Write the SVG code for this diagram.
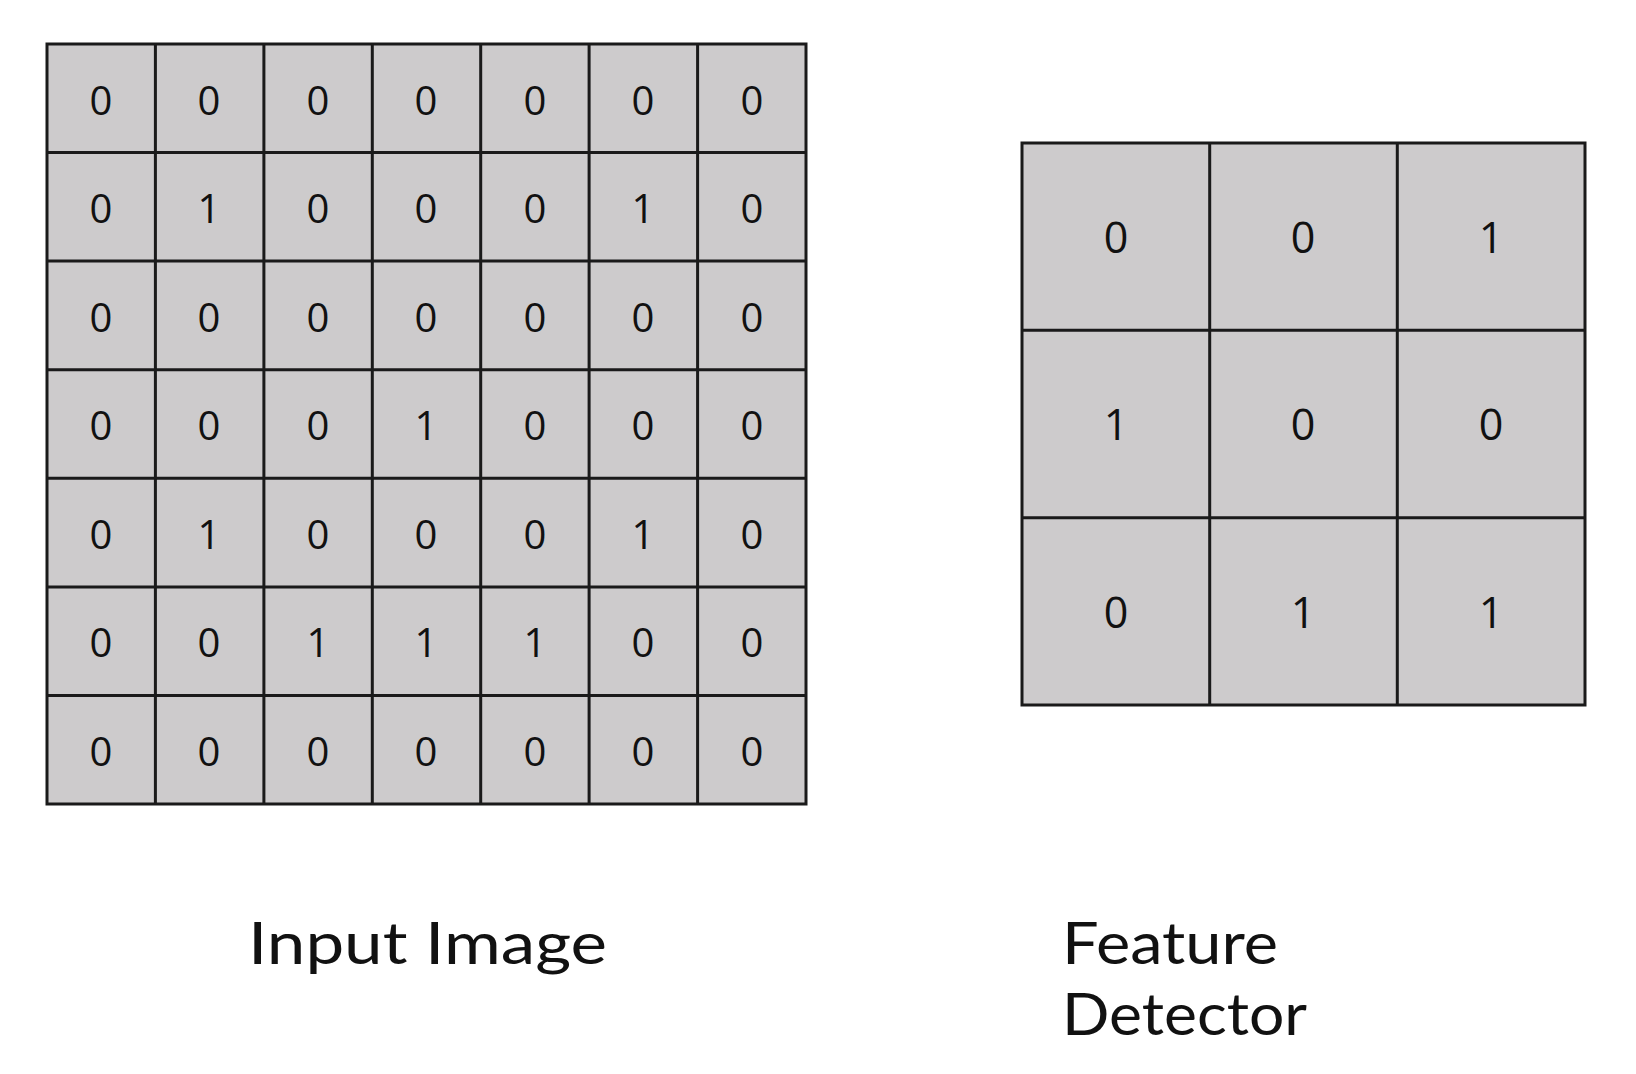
<svg xmlns="http://www.w3.org/2000/svg" width="1636" height="1074" viewBox="0 0 1636 1074">
<style>
.c{fill:#cdcbcc;stroke:#1a1a1a;stroke-width:3}
.d{font-family:"Open Sans","Liberation Sans",sans-serif;fill:#111;text-anchor:middle}
.s{font-size:40px}
.b{font-size:43px}
.l{font-family:Lato,"Liberation Sans",sans-serif;font-size:58px;fill:#111}
</style>
<rect width="1636" height="1074" fill="#fff"/>
<g id="input-image">
<rect class="c" x="47" y="44" width="759" height="760"/>
<path d="M155.4 44V804M263.9 44V804M372.3 44V804M480.7 44V804M589.1 44V804M697.6 44V804M47 152.6H806M47 261.1H806M47 369.7H806M47 478.3H806M47 586.9H806M47 695.4H806" stroke="#1a1a1a" stroke-width="3" fill="none"/>
<g class="d s">
<text x="101" y="115">0</text><text x="209" y="115">0</text><text x="318" y="115">0</text><text x="426" y="115">0</text><text x="535" y="115">0</text><text x="643" y="115">0</text><text x="752" y="115">0</text>
<text x="101" y="223">0</text><text x="209" y="223">1</text><text x="318" y="223">0</text><text x="426" y="223">0</text><text x="535" y="223">0</text><text x="643" y="223">1</text><text x="752" y="223">0</text>
<text x="101" y="332">0</text><text x="209" y="332">0</text><text x="318" y="332">0</text><text x="426" y="332">0</text><text x="535" y="332">0</text><text x="643" y="332">0</text><text x="752" y="332">0</text>
<text x="101" y="440">0</text><text x="209" y="440">0</text><text x="318" y="440">0</text><text x="426" y="440">1</text><text x="535" y="440">0</text><text x="643" y="440">0</text><text x="752" y="440">0</text>
<text x="101" y="549">0</text><text x="209" y="549">1</text><text x="318" y="549">0</text><text x="426" y="549">0</text><text x="535" y="549">0</text><text x="643" y="549">1</text><text x="752" y="549">0</text>
<text x="101" y="657">0</text><text x="209" y="657">0</text><text x="318" y="657">1</text><text x="426" y="657">1</text><text x="535" y="657">1</text><text x="643" y="657">0</text><text x="752" y="657">0</text>
<text x="101" y="766">0</text><text x="209" y="766">0</text><text x="318" y="766">0</text><text x="426" y="766">0</text><text x="535" y="766">0</text><text x="643" y="766">0</text><text x="752" y="766">0</text>
</g>
</g>
<g id="feature-detector">
<rect class="c" x="1022" y="143" width="563" height="562"/>
<path d="M1209.7 143V705M1397.3 143V705M1022 330.3H1585M1022 517.7H1585" stroke="#1a1a1a" stroke-width="3" fill="none"/>
<g class="d b">
<text x="1116" y="253">0</text><text x="1303" y="253">0</text><text x="1491" y="253">1</text>
<text x="1116" y="440">1</text><text x="1303" y="440">0</text><text x="1491" y="440">0</text>
<text x="1116" y="628">0</text><text x="1303" y="628">1</text><text x="1491" y="628">1</text>
</g>
</g>
<g id="labels">
<text class="l" x="248" y="964" textLength="359" lengthAdjust="spacingAndGlyphs">Input Image</text>
<text class="l" x="1062" y="964" textLength="216" lengthAdjust="spacingAndGlyphs">Feature</text>
<text class="l" x="1062" y="1035" textLength="245" lengthAdjust="spacingAndGlyphs">Detector</text>
</g>
</svg>
